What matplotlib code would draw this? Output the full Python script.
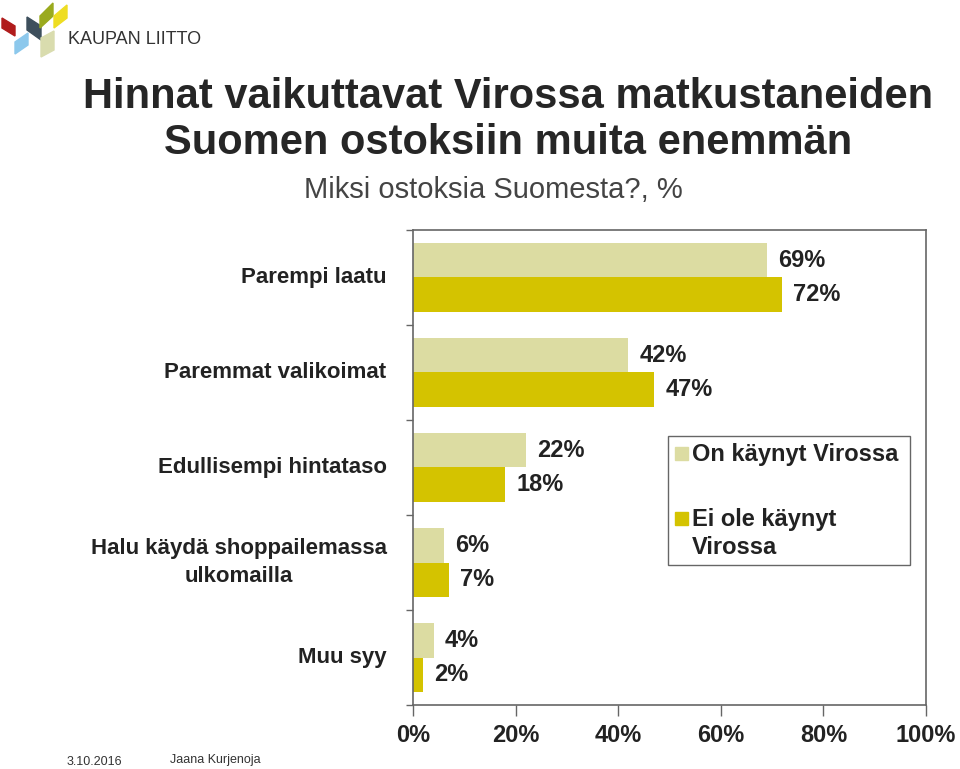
import numpy as np
import matplotlib
matplotlib.use('Agg')
import matplotlib.pyplot as plt
from matplotlib.patches import Polygon, Rectangle

plt.rcParams['font.family'] = ['Liberation Sans', 'DejaVu Sans']

categories = ['Parempi laatu', 'Paremmat valikoimat', 'Edullisempi hintataso',
              'Halu käydä shoppailemassa\nulkomailla', 'Muu syy']
visited = [69, 42, 22, 6, 4]        # On käynyt Virossa
not_visited = [72, 47, 18, 7, 2]    # Ei ole käynyt Virossa
series_names = ['On käynyt Virossa', 'Ei ole käynyt\nVirossa']
xticks = [0, 20, 40, 60, 80, 100]
xtick_labels = ['0%', '20%', '40%', '60%', '80%', '100%']

light = '#dcdca2'
dark = '#d4c300'
txt = '#222222'
spine = '#666666'

W, H = 960, 769
fig = plt.figure(figsize=(W / 100, H / 100), dpi=100)


def fx(px):
    return px / W


def fy(py):
    return 1 - py / H


ax = fig.add_axes([fx(413), fy(705), (926 - 413) / W, (705 - 230) / H])

y = np.arange(len(categories))
h = 0.36
ax.barh(y - h / 2, visited, h, color=light, label=series_names[0])
ax.barh(y + h / 2, not_visited, h, color=dark, label=series_names[1])

for yi, v in zip(y - h / 2, visited):
    ax.annotate(f'{v}%', (v, yi), xytext=(8, 0), textcoords='offset points',
                va='center', ha='left', fontsize=17, fontweight='bold', color=txt)
for yi, v in zip(y + h / 2, not_visited):
    ax.annotate(f'{v}%', (v, yi), xytext=(8, 0), textcoords='offset points',
                va='center', ha='left', fontsize=17, fontweight='bold', color=txt)

ax.set_xlim(0, 100)
ax.set_ylim(len(categories) - 0.5, -0.5)
ax.set_xticks(xticks)
ax.set_xticklabels(xtick_labels, fontsize=17, fontweight='bold', color=txt)
ax.set_yticks(np.arange(-0.5, len(categories), 1))
ax.set_yticklabels([])
ax.tick_params(axis='x', length=8, width=1, color=spine, pad=6)
ax.tick_params(axis='y', length=5, width=1, color=spine)
for s in ax.spines.values():
    s.set_color(spine)
    s.set_linewidth(1.2)

for yi, cat in zip(y, categories):
    ax.annotate(cat, (0, yi), xytext=(-19, 0), textcoords='offset points',
                ha='right', va='center', multialignment='center', linespacing=1.45,
                fontsize=16, fontweight='bold', color=txt)

# legend box drawn by hand to keep marker on first line
fig.patches.append(Rectangle((fx(668), fy(565)), (910 - 668) / W, (565 - 436) / H,
                             transform=fig.transFigure, facecolor='white',
                             edgecolor=spine, lw=1))
fig.patches.append(Rectangle((fx(675), fy(460)), 13 / W, 13 / H,
                             transform=fig.transFigure, color=light))
fig.patches.append(Rectangle((fx(675), fy(525)), 13 / W, 13 / H,
                             transform=fig.transFigure, color=dark))
fig.text(fx(692), fy(454), series_names[0], ha='left', va='center',
         fontsize=17, fontweight='bold', color=txt)
fig.text(fx(692), fy(508), series_names[1], ha='left', va='top',
         fontsize=17, fontweight='bold', color=txt, linespacing=1.25)

# titles
fig.text(fx(508), fy(120), 'Hinnat vaikuttavat Virossa matkustaneiden\nSuomen ostoksiin muita enemmän',
         ha='center', va='center', fontsize=30, fontweight='bold', color='#262626',
         linespacing=1.2)
fig.text(fx(493), fy(190), 'Miksi ostoksia Suomesta?, %', ha='center', va='center',
         fontsize=21, color='#444444')

# footer
fig.text(fx(67), fy(762), '3.10.2016', ha='left', va='center', fontsize=9, color='#333333')
fig.text(fx(170), fy(760), 'Jaana Kurjenoja', ha='left', va='center', fontsize=9, color='#333333')

# logo
logo = [
    ('#b01c1c', [(2, 18), (15, 26), (15, 36), (2, 28)]),
    ('#8cc8ec', [(15, 42), (28, 33), (28, 45), (15, 54)]),
    ('#3d4f5c', [(27, 17), (41, 26), (41, 40), (27, 30)]),
    ('#9aaa1e', [(40, 16), (53, 3), (53, 16), (40, 28)]),
    ('#eedd22', [(54, 16), (67, 5), (67, 18), (54, 28)]),
    ('#d9dcae', [(41, 38), (54, 31), (54, 50), (41, 57)]),
]
for c, pts in logo:
    fig.patches.append(Polygon([(fx(a), fy(b)) for a, b in pts], closed=True,
                               transform=fig.transFigure, color=c))
fig.text(fx(68), fy(40), 'KAUPAN LIITTO', ha='left', va='center', fontsize=13,
         color='#333333')

plt.savefig('out.png', dpi=100)
